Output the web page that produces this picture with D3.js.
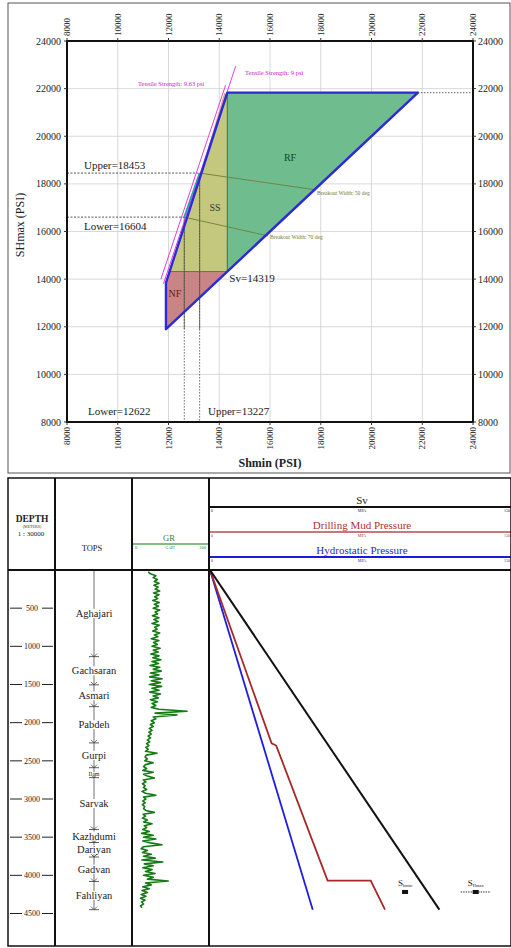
<!DOCTYPE html>
<html><head><meta charset="utf-8">
<script src="https://cdn.jsdelivr.net/npm/d3@7"></script>
<style>
html,body{margin:0;padding:0;background:#fff;}
svg{display:block;font-family:"Liberation Serif","DejaVu Serif",serif;}
</style></head>
<body>
<svg id="c" width="511" height="948"></svg>
<script>
// ---------------- DATA ----------------
// Stress polygon (PSI)
const psiTicks = [8000,10000,12000,14000,16000,18000,20000,22000,24000];
const outlinePoints = [[11900,11900],[11900,13840],[14319,21830],[21830,21830]];
const Sv = 14319;
const shminLower = 12622, shminUpper = 13227;
const shmaxLower = 16604, shmaxUpper = 18453;
const tensileA = [[11700,14000],[14250,22150]];   // 9.63 psi
const tensileB = [[11800,13800],[14650,22950]];   // 9 psi
const breakout50 = [[shminUpper,shmaxUpper],[17813,17748]];
const breakout70 = [[shminLower,shmaxLower],[15921,15815]];
const salmonSliver = [[14200,21830],[14319,21700],[13500,19300]];

// Well log
const depthTicks = [500,1000,1500,2000,2500,3000,3500,4000,4500];
const topsNames = ["Aghajari","Gachsaran","Asmari","Pabdeh","Gurpi","Ilam","Sarvak","Kazhdumi","Dariyan","Gadvan","Fahliyan"];
const topsDepths = [0,1135,1505,1790,2265,2590,2720,3400,3570,3760,4080];
const tdDepth = 4450;
const grDepthStart = 25, grDepthStep = 25;
const grValues = [
42,48,62,55,66,58,70,57,68,60,72,56,70,59,67,54,71,58,69,55,
72,60,66,53,70,57,68,52,71,59,65,54,72,58,67,50,70,56,66,52,
73,55,68,49,70,54,75,52,69,47,72,55,76,48,70,46,78,50,74,45,
77,52,70,46,74,55,68,48,66,52,62,50,70,143,60,117,55,62,50,58,
48,55,45,52,44,50,42,48,40,46,38,44,36,42,35,65,37,34,40,33,
55,35,30,38,28,55,30,40,58,29,36,27,34,30,38,26,35,62,30,36,
28,34,27,33,30,36,58,29,35,27,40,30,52,32,38,28,45,25,55,30,
62,28,48,78,30,24,40,27,50,30,60,26,80,32,55,28,52,35,60,30,
55,40,94,35,50,28,45,26,40,24,36,22,34,25,30,22,26
];
const svDepth = [0,4450], svMPa = [0,114.3];
const hydroDepth = [0,4450], hydroMPa = [0,51.2];
const mudDepth = [0,2270,2300,4070,4070,4450], mudMPa = [0,30.7,33.0,58.6,80.1,87.2];
const stressMarkers = [
  {label:"S", sub:"hmin", depth:4218, mpa:97.2, err:1.5},
  {label:"S", sub:"Hmax", depth:4218, mpa:132.4, err:7.5}
];
const pressureMax = 150;

// ---------------- DRAW ----------------
const svg = d3.select("#c");
const SERIF = "Liberation Serif";

// ===== Top panel =====
svg.append("rect").attr("x",8).attr("y",3).attr("width",502).attr("height",470)
  .attr("fill","none").attr("stroke","#555").attr("stroke-width",1);

const x = d3.scaleLinear().domain([8000,24000]).range([67,473]);
const y = d3.scaleLinear().domain([8000,24000]).range([422,41]);
const lineP = d3.line().x(d=>x(d[0])).y(d=>y(d[1]));

const topG = svg.append("g");
// grid
topG.selectAll(".gx").data(psiTicks).join("line")
  .attr("x1",d=>x(d)).attr("x2",d=>x(d)).attr("y1",y(24000)).attr("y2",y(8000))
  .attr("stroke","#cfcfcf").attr("stroke-width",0.8);
topG.selectAll(".gy").data(psiTicks).join("line")
  .attr("y1",d=>y(d)).attr("y2",d=>y(d)).attr("x1",x(8000)).attr("x2",x(24000))
  .attr("stroke","#cfcfcf").attr("stroke-width",0.8);

// regions
const leftAt = s => {
  const a = outlinePoints[1], b = outlinePoints[2];
  return a[0] + (s - a[1])/(b[1]-a[1])*(b[0]-a[0]);
};
const nf = [outlinePoints[0], outlinePoints[1], [leftAt(Sv),Sv], [Sv,Sv]];
const ss = [[leftAt(Sv),Sv], outlinePoints[2], [Sv,outlinePoints[2][1]], [Sv,Sv]];
const rf = [[Sv,Sv], [Sv,outlinePoints[3][1]], outlinePoints[3]];
topG.append("path").attr("d",lineP(nf)+"Z").attr("fill","#c98585").attr("stroke","#8a5a40").attr("stroke-width",0.8);
topG.append("path").attr("d",lineP(ss)+"Z").attr("fill","#c4c77e").attr("stroke","#5f6b30").attr("stroke-width",0.8);
topG.append("path").attr("d",lineP(rf)+"Z").attr("fill","#6fbd8e").attr("stroke","#3f6f40").attr("stroke-width",0.8);
topG.append("path").attr("d",lineP(salmonSliver)+"Z").attr("fill","#e0a08a").attr("stroke","none");

// vertical lines (Shmin lower/upper) and horizontal dashed (SHmax lower/upper)
[[shminLower,shmaxLower],[shminUpper,shmaxUpper]].forEach(p=>{
  topG.append("line").attr("x1",x(p[0])).attr("x2",x(p[0])).attr("y1",y(p[1])).attr("y2",y(8000))
    .attr("stroke","#444").attr("stroke-width",0.8).attr("stroke-dasharray","1.5,1.5");
  topG.append("line").attr("x1",x(p[0])).attr("x2",x(p[0])).attr("y1",y(p[1])).attr("y2",y(outlinePoints[0][1]))
    .attr("stroke","#55583a").attr("stroke-width",0.8);
  topG.append("line").attr("x1",x(8000)).attr("x2",x(p[0])).attr("y1",y(p[1])).attr("y2",y(p[1]))
    .attr("stroke","#444").attr("stroke-width",0.9).attr("stroke-dasharray","2,1.5");
});
// breakout lines
[breakout50, breakout70].forEach(b=>{
  topG.append("path").attr("d",lineP(b)).attr("fill","none").attr("stroke","#6f7f3a").attr("stroke-width",0.9);
});
// teal segment
topG.append("path").attr("d",lineP([[shminUpper,shmaxUpper],[shminLower,shmaxLower]]))
  .attr("stroke","#1aa8a0").attr("stroke-width",1.8).attr("fill","none");
// tensile lines
[tensileA,tensileB].forEach(t=>{
  topG.append("path").attr("d",lineP(t)).attr("fill","none").attr("stroke","#e040e0").attr("stroke-width",1);
});
// polygon outline
topG.append("path").attr("d",lineP(outlinePoints)+"Z").attr("fill","none")
  .attr("stroke","#2b2bd6").attr("stroke-width",2.4).attr("stroke-linejoin","round");
// dotted extension at top
topG.append("line").attr("x1",x(outlinePoints[3][0])).attr("x2",x(24000))
  .attr("y1",y(outlinePoints[3][1])).attr("y2",y(outlinePoints[3][1]))
  .attr("stroke","#555").attr("stroke-width",0.9).attr("stroke-dasharray","1.5,1.5");

// frame
topG.append("rect").attr("x",x(8000)).attr("y",y(24000)).attr("width",x(24000)-x(8000)).attr("height",y(8000)-y(24000))
  .attr("fill","none").attr("stroke","#111").attr("stroke-width",2);

// tick labels
const tl = topG.append("g").attr("font-family",SERIF).attr("fill","#222");
tl.selectAll(".yl").data(psiTicks).join("text").attr("font-size",10).attr("x",61).attr("y",d=>y(d)+3.5).attr("text-anchor","end").text(d=>d);
tl.selectAll(".yr").data(psiTicks).join("text").attr("font-size",10).attr("x",478).attr("y",d=>y(d)+3.5).attr("text-anchor","start").text(d=>d);
tl.selectAll(".xb").data(psiTicks).join("text").attr("font-size",9).attr("text-anchor","end")
  .attr("transform",d=>`translate(${x(d)+3},427) rotate(-90)`).text(d=>d);
tl.selectAll(".xt").data(psiTicks).join("text").attr("font-size",9).attr("text-anchor","start")
  .attr("transform",d=>`translate(${x(d)+3},36) rotate(-90)`).text(d=>d);
// small tick marks
topG.selectAll(".tkx").data(psiTicks).join("line").attr("x1",d=>x(d)).attr("x2",d=>x(d)).attr("y1",422).attr("y2",425).attr("stroke","#333");
topG.selectAll(".tkx2").data(psiTicks).join("line").attr("x1",d=>x(d)).attr("x2",d=>x(d)).attr("y1",38).attr("y2",41).attr("stroke","#333");
topG.selectAll(".tky").data(psiTicks).join("line").attr("x1",64).attr("x2",67).attr("y1",d=>y(d)).attr("y2",d=>y(d)).attr("stroke","#333");
topG.selectAll(".tky2").data(psiTicks).join("line").attr("x1",473).attr("x2",476).attr("y1",d=>y(d)).attr("y2",d=>y(d)).attr("stroke","#333");

// titles
topG.append("text").attr("transform","translate(24,225) rotate(-90)").attr("text-anchor","middle")
  .attr("font-size",12).attr("font-family",SERIF).attr("fill","#222").text("SHmax (PSI)");
topG.append("text").attr("x",270).attr("y",467).attr("text-anchor","middle")
  .attr("font-size",12).attr("font-weight","bold").attr("font-family",SERIF).attr("fill","#222").text("Shmin (PSI)");

// annotations
const ann = topG.append("g").attr("font-family",SERIF).attr("fill","#222");
ann.append("text").attr("x",84).attr("y",169).attr("font-size",11).text("Upper="+shmaxUpper);
ann.append("text").attr("x",84).attr("y",230).attr("font-size",11).text("Lower="+shmaxLower);
ann.append("text").attr("x",88).attr("y",415).attr("font-size",11).text("Lower="+shminLower);
ann.append("text").attr("x",208).attr("y",415).attr("font-size",11).text("Upper="+shminUpper);
ann.append("text").attr("x",x(Sv)+2).attr("y",y(Sv)+10).attr("font-size",11).text("Sv="+Sv);
ann.append("text").attr("x",x(17813)+1).attr("y",y(17748)+5).attr("font-size",5.5).attr("fill","#6f7a30").text("Breakout Width: 50 deg");
ann.append("text").attr("x",x(15921)+2).attr("y",y(15815)+3).attr("font-size",5.5).attr("fill","#6f7a30").text("Breakout Width: 70 deg");
ann.append("text").attr("x",138).attr("y",86).attr("font-size",6.5).attr("fill","#d020d0").text("Tensile Strength: 9.63 psi");
ann.append("text").attr("x",245).attr("y",75).attr("font-size",6.5).attr("fill","#d020d0").text("Tensile Strength: 9 psi");
ann.append("text").attr("x",290).attr("y",161).attr("font-size",10).attr("text-anchor","middle").attr("fill","#0e4a22").text("RF");
ann.append("text").attr("x",215).attr("y",211).attr("font-size",10).attr("text-anchor","middle").attr("fill","#333").text("SS");
ann.append("text").attr("x",175).attr("y",297).attr("font-size",10).attr("text-anchor","middle").attr("fill","#6a1a1a").text("NF");

// ===== Bottom panel =====
const yd = d3.scaleLinear().domain([0,4500]).range([570,913.5]);
const xp = d3.scaleLinear().domain([0,pressureMax]).range([210,511]);
const xg = d3.scaleLinear().domain([0,200]).range([132,209]);
const bot = svg.append("g");

// GR curve
const grPts = grValues.map((v,i)=>[grDepthStart + i*grDepthStep, v]);
bot.append("path").attr("d", d3.line().x(d=>xg(d[1])).y(d=>yd(d[0]))(grPts))
  .attr("fill","none").attr("stroke","#147a14").attr("stroke-width",1.6).attr("stroke-linejoin","round");

// pressure lines
const pl = d3.line().x(d=>xp(d[1])).y(d=>yd(d[0]));
bot.append("path").attr("d",pl(hydroDepth.map((d,i)=>[d,hydroMPa[i]]))).attr("fill","none").attr("stroke","#1e1ee0").attr("stroke-width",1.8);
bot.append("path").attr("d",pl(mudDepth.map((d,i)=>[d,mudMPa[i]]))).attr("fill","none").attr("stroke","#a82828").attr("stroke-width",1.8);
bot.append("path").attr("d",pl(svDepth.map((d,i)=>[d,svMPa[i]]))).attr("fill","none").attr("stroke","#111").attr("stroke-width",2);

// stress markers
stressMarkers.forEach(m=>{
  const cx = xp(m.mpa), cy = yd(m.depth);
  bot.append("line").attr("x1",xp(m.mpa-m.err)).attr("x2",xp(m.mpa+m.err)).attr("y1",cy).attr("y2",cy)
    .attr("stroke","#333").attr("stroke-width",1).attr("stroke-dasharray","1.5,1");
  bot.append("rect").attr("x",cx-3).attr("y",cy-2).attr("width",6).attr("height",4).attr("fill","#111");
  const t = bot.append("text").attr("x",cx).attr("y",cy-6).attr("text-anchor","middle")
    .attr("font-family",SERIF).attr("font-size",9).attr("fill","#222");
  t.append("tspan").text(m.label);
  t.append("tspan").attr("font-size",4.5).attr("dy",1).text(m.sub);
});

// tops track
bot.append("line").attr("x1",94).attr("x2",94).attr("y1",yd(0)).attr("y2",yd(tdDepth)).attr("stroke","#333").attr("stroke-width",0.7);
topsDepths.concat([tdDepth]).forEach((d,i)=>{
  if(i===0) return;
  const yy = yd(d);
  bot.append("line").attr("x1",89).attr("x2",99).attr("y1",yy).attr("y2",yy).attr("stroke","#333").attr("stroke-width",0.8);
  bot.append("path").attr("d",`M91,${yy-3}L94,${yy}L97,${yy-3}`).attr("fill","none").attr("stroke","#333").attr("stroke-width",0.7);
});
topsNames.forEach((n,i)=>{
  const d0 = topsDepths[i], d1 = i+1<topsDepths.length ? topsDepths[i+1] : tdDepth;
  const g = bot.append("g");
  const t = g.append("text").attr("x",94).attr("y",yd((d0+d1)/2)+3.5).attr("text-anchor","middle")
    .attr("font-family",SERIF).attr("font-size",n==="Ilam"?6:10.5).attr("fill","#222").text(n);
  const bb = t.node().getBBox();
  g.insert("rect","text").attr("x",bb.x-1).attr("y",bb.y+1).attr("width",bb.width+2).attr("height",bb.height-2).attr("fill","#fff");
});

// depth track
depthTicks.forEach(d=>{
  const yy = yd(d);
  bot.append("line").attr("x1",10).attr("x2",22).attr("y1",yy).attr("y2",yy).attr("stroke","#222").attr("stroke-width",1);
  bot.append("line").attr("x1",42).attr("x2",53).attr("y1",yy).attr("y2",yy).attr("stroke","#222").attr("stroke-width",1);
  bot.append("text").attr("x",32).attr("y",yy+2.8).attr("text-anchor","middle").attr("font-family",SERIF)
    .attr("font-size",8).attr("fill","#222").text(d);
});

// header
const hd = bot.append("g").attr("font-family",SERIF);
hd.append("text").attr("x",32).attr("y",522).attr("text-anchor","middle").attr("font-size",9.5).attr("font-weight","bold").attr("fill","#222").text("DEPTH");
hd.append("text").attr("x",32).attr("y",528).attr("text-anchor","middle").attr("font-size",4).attr("fill","#333").text("(METERS)");
hd.append("text").attr("x",31).attr("y",536).attr("text-anchor","middle").attr("font-size",7).attr("fill","#222").text("1 : 30000");
hd.append("text").attr("x",92).attr("y",551).attr("text-anchor","middle").attr("font-size",8.5).attr("fill","#222").text("TOPS");
hd.append("text").attr("x",169).attr("y",541).attr("text-anchor","middle").attr("font-size",8.5).attr("fill","#2a8a2a").text("GR");
hd.append("line").attr("x1",132).attr("x2",209).attr("y1",544).attr("y2",544).attr("stroke","#5aa55a").attr("stroke-width",1.5);
hd.append("text").attr("x",135).attr("y",549).attr("font-size",4.5).attr("fill","#2a8a2a").text("0");
hd.append("text").attr("x",170).attr("y",549).attr("text-anchor","middle").attr("font-size",4).attr("fill","#2a8a2a").text("GAPI");
hd.append("text").attr("x",206).attr("y",549).attr("text-anchor","end").attr("font-size",4.5).attr("fill","#2a8a2a").text("200");

const curves = [
  {name:"Sv", y:507, text:"#222", line:"#111"},
  {name:"Drilling Mud Pressure", y:532, text:"#b03030", line:"#c87878"},
  {name:"Hydrostatic Pressure", y:557, text:"#2a2ac8", line:"#1a1ae0"}
];
curves.forEach(c=>{
  hd.append("text").attr("x",362).attr("y",c.y-3).attr("text-anchor","middle").attr("font-size",11).attr("fill",c.text).text(c.name);
  hd.append("line").attr("x1",209).attr("x2",511).attr("y1",c.y).attr("y2",c.y).attr("stroke",c.line).attr("stroke-width",2);
  hd.append("text").attr("x",211).attr("y",c.y+5).attr("font-size",4).attr("fill",c.text).text("0");
  hd.append("text").attr("x",362).attr("y",c.y+5).attr("text-anchor","middle").attr("font-size",4).attr("fill",c.text).text("MPA");
  hd.append("text").attr("x",510).attr("y",c.y+5).attr("text-anchor","end").attr("font-size",4).attr("fill",c.text).text(pressureMax);
});

// frame & column dividers
bot.append("rect").attr("x",8).attr("y",478).attr("width",503).attr("height",468).attr("fill","none").attr("stroke","#111").attr("stroke-width",1.5);
[55,132,209].forEach(xx=>bot.append("line").attr("x1",xx).attr("x2",xx).attr("y1",478).attr("y2",946).attr("stroke","#111").attr("stroke-width",2));
bot.append("line").attr("x1",8).attr("x2",511).attr("y1",570).attr("y2",570).attr("stroke","#111").attr("stroke-width",2);
</script>
</body></html>
